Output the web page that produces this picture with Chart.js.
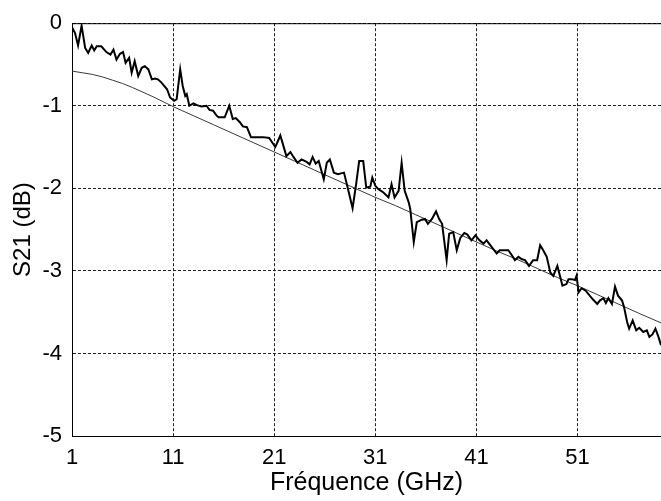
<!DOCTYPE html>
<html>
<head>
<meta charset="utf-8">
<script src="https://cdn.jsdelivr.net/npm/chart.js@4"></script>
<style>
  html, body { margin: 0; padding: 0; background: #fff; overflow: hidden; }
  #chart { display: block; }
</style>
</head>
<body>
<canvas id="chart" width="661" height="501"></canvas>
<script>
var freqMeas = [1.0, 1.3, 1.6, 1.95, 2.3, 2.6, 2.95, 3.2, 3.45, 3.9, 4.4, 4.8, 5.1, 5.4, 5.75, 6.05, 6.3, 6.65, 6.9, 7.2,
    7.55, 7.9, 8.2, 8.55, 8.9, 9.2, 9.5, 9.85, 10.4, 10.7, 11.1, 11.35, 11.7, 11.95, 12.2, 12.35, 12.6, 13.0, 13.3, 13.8,
    14.3, 14.6, 14.95, 15.3, 15.5, 16.1, 16.55, 16.9, 17.2, 17.6, 17.9, 18.3, 18.7, 19.3, 19.9, 20.5, 21.1, 21.25, 21.6, 21.8,
    22.2, 22.6, 22.9, 23.3, 23.7, 24.2, 24.5, 24.8, 25.1, 25.4, 25.9, 26.2, 26.5, 26.9, 27.3, 27.9, 28.3, 28.75, 29.1, 29.4,
    29.8, 30.1, 30.5, 30.7, 31.0, 31.3, 31.8, 32.3, 32.6, 32.9, 33.3, 33.6, 33.9, 34.3, 34.45, 34.8, 35.1, 35.6, 35.9, 36.2,
    36.6, 37.0, 37.3, 37.6, 38.05, 38.3, 38.7, 39.05, 39.4, 39.8, 40.1, 40.5, 40.9, 41.3, 41.7, 42.0, 42.5, 43.0, 43.3, 43.8,
    44.15, 44.5, 44.8, 45.15, 45.5, 45.8, 46.2, 46.6, 47.0, 47.3, 47.6, 47.95, 48.3, 48.6, 49.0, 49.3, 49.5, 49.9, 50.1, 50.4,
    50.75, 50.9, 51.1, 51.4, 51.8, 52.2, 52.55, 52.95, 53.2, 53.55, 53.8, 54.05, 54.4, 54.7, 55.0, 55.4, 55.6, 55.9, 56.1, 56.45,
    56.8, 57.1, 57.5, 57.85, 58.1, 58.4, 58.7, 59.0, 59.25];
var s21Meas = [-0.05, -0.12, -0.27, -0.03, -0.30, -0.36, -0.27, -0.33, -0.28, -0.28, -0.35, -0.38, -0.32, -0.44, -0.37, -0.35, -0.48, -0.42, -0.60, -0.46,
    -0.64, -0.54, -0.52, -0.56, -0.68, -0.67, -0.68, -0.72, -0.80, -0.90, -0.94, -0.92, -0.56, -0.76, -0.88, -0.86, -1.00, -0.97, -0.99, -1.01,
    -1.00, -1.05, -1.06, -1.12, -1.14, -1.14, -1.00, -1.16, -1.15, -1.20, -1.25, -1.26, -1.38, -1.38, -1.38, -1.39, -1.50, -1.46, -1.36, -1.44,
    -1.61, -1.56, -1.62, -1.69, -1.65, -1.68, -1.71, -1.62, -1.70, -1.67, -1.89, -1.69, -1.65, -1.81, -1.83, -1.81, -2.01, -2.24, -1.95, -1.67,
    -1.67, -1.99, -1.98, -1.87, -1.97, -2.01, -2.05, -2.11, -1.95, -2.11, -2.03, -1.69, -2.03, -2.17, -2.25, -2.65, -2.41, -2.38, -2.37, -2.43,
    -2.37, -2.28, -2.37, -2.43, -2.87, -2.55, -2.53, -2.75, -2.60, -2.54, -2.56, -2.63, -2.57, -2.63, -2.67, -2.63, -2.71, -2.79, -2.75, -2.75,
    -2.75, -2.81, -2.87, -2.83, -2.86, -2.87, -2.94, -2.87, -2.87, -2.69, -2.75, -2.83, -3.02, -3.06, -2.94, -3.08, -3.18, -3.16, -3.10, -3.10,
    -3.11, -3.06, -3.26, -3.21, -3.24, -3.30, -3.35, -3.40, -3.36, -3.33, -3.39, -3.33, -3.40, -3.19, -3.30, -3.36, -3.44, -3.62, -3.70, -3.60,
    -3.72, -3.69, -3.74, -3.72, -3.80, -3.77, -3.70, -3.80, -3.90];

// fitted curve
var freqFit = [1, 2, 3, 4, 5, 6, 7, 9, 11, 13, 15, 17, 19, 21, 23, 25, 27, 29, 31, 33, 35, 37, 39, 41, 43, 45, 47, 49, 51, 53, 55, 57, 59.25];
var s21Fit = [-0.58, -0.60, -0.62, -0.65, -0.69, -0.73, -0.78, -0.89, -1.01, -1.12, -1.23, -1.34, -1.45, -1.56, -1.67, -1.78, -1.89, -2.00, -2.11, -2.21,
    -2.32, -2.43, -2.54, -2.65, -2.76, -2.86, -2.97, -3.08, -3.18, -3.29, -3.40, -3.51, -3.63];

var xTicks = [1, 11, 21, 31, 41, 51];
var yTicks = [-5, -4, -3, -2, -1, 0];

function toPoints(xs, ys) {
    return xs.map(function(x, i) { return {x: x, y: ys[i]}; });
}

var FONT = 'Liberation Sans, Arial, sans-serif';

// top frame line (matlab style box)
var topFrame = {
    id: 'topFrame',
    afterDraw: function(chart) {
        var a = chart.chartArea, ctx = chart.ctx;
        ctx.save();
        ctx.strokeStyle = '#000';
        ctx.lineWidth = 1;
        ctx.beginPath();
        ctx.moveTo(a.left, a.top + 0.5);
        ctx.lineTo(a.right, a.top + 0.5);
        ctx.stroke();
        ctx.restore();
    }
};

var grid = {color: '#222', lineWidth: 1, drawTicks: false};
var border = {display: true, color: '#000', width: 1, dash: [3, 2]};

new Chart(document.getElementById('chart'), {
    type: 'line',
    data: {
        datasets: [
            {
                data: toPoints(freqMeas, s21Meas),
                borderColor: '#000',
                borderWidth: 2,
                pointRadius: 0,
                tension: 0
            },
            {
                data: toPoints(freqFit, s21Fit),
                borderColor: '#3a3a3a',
                borderWidth: 1,
                pointRadius: 0,
                tension: 0
            }
        ]
    },
    options: {
        responsive: false,
        animation: false,
        layout: { padding: { top: 16, right: 0, left: 0, bottom: 0 } },
        plugins: { legend: { display: false }, tooltip: { enabled: false } },
        scales: {
            x: {
                type: 'linear',
                min: 1,
                max: 59.25,
                afterBuildTicks: function(scale) {
                    scale.ticks = xTicks.map(function(v) { return {value: v}; });
                },
                afterFit: function(scale) { scale.height = 65; },
                grid: grid,
                border: border,
                ticks: { color: '#000', padding: 9, font: { family: FONT, size: 22 }, maxRotation: 0 },
                title: { display: true, text: 'Fréquence (GHz)', color: '#000',
                         font: { family: FONT, size: 25 }, padding: { top: 0, bottom: 3 } }
            },
            y: {
                type: 'linear',
                min: -5,
                max: 0,
                afterBuildTicks: function(scale) {
                    scale.ticks = yTicks.map(function(v) { return {value: v}; });
                },
                afterFit: function(scale) { scale.width = 72; },
                grid: grid,
                border: border,
                ticks: { color: '#000', padding: 10, font: { family: FONT, size: 22 } },
                title: { display: true, text: 'S21 (dB)', color: '#000',
                         font: { family: FONT, size: 24 }, padding: { top: 9, bottom: 0 } }
            }
        }
    },
    plugins: [topFrame]
});
</script>
</body>
</html>
